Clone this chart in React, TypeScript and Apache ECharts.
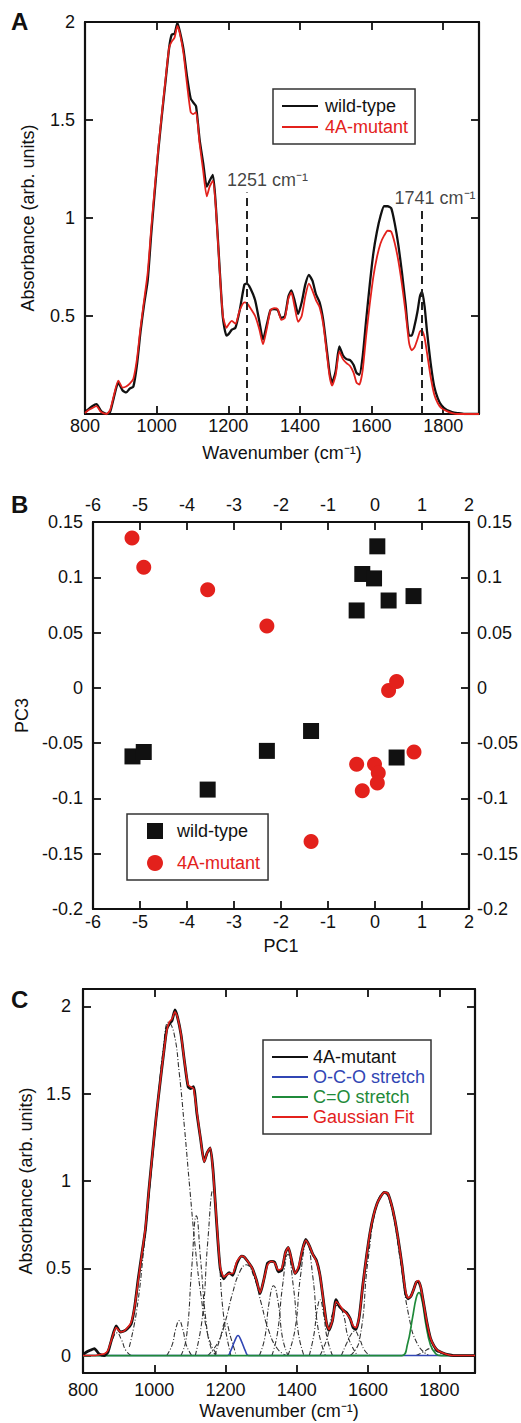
import React, { useEffect, useRef } from "react";
import * as echarts from "echarts";

// ---------- Panel A / C spectra ----------
const wavenumbers = [
  800, 810, 820, 832, 845, 860, 870, 880, 893, 905, 915, 925, 935, 945, 955, 965, 975, 985, 995,
  1005, 1015, 1025, 1035, 1042, 1050, 1058, 1065, 1075, 1085, 1095, 1102, 1110, 1120, 1130, 1140,
  1148, 1157, 1165, 1175, 1185, 1195, 1202, 1210, 1220, 1232, 1245, 1252, 1262, 1275, 1287, 1297,
  1308, 1318, 1328, 1338, 1348, 1358, 1368, 1376, 1385, 1395, 1405, 1415, 1425, 1435, 1445, 1455,
  1465, 1475, 1483, 1490, 1500, 1510, 1520, 1530, 1540, 1550, 1558, 1566, 1575, 1585, 1595, 1605,
  1615, 1625, 1635, 1645, 1655, 1665, 1675, 1685, 1695, 1705, 1712, 1720, 1728, 1735, 1741, 1748,
  1755, 1765, 1775, 1785, 1795, 1810, 1825, 1840, 1860, 1880, 1900,
];
const wildType = [
  0.01, 0.025, 0.04, 0.05, 0.015, 0.0, 0.01, 0.08, 0.16, 0.12, 0.11, 0.13, 0.14, 0.25, 0.42, 0.56, 0.68, 0.92, 1.14,
  1.35, 1.53, 1.7, 1.87, 1.935, 1.94, 1.995, 1.95, 1.86, 1.72, 1.61, 1.59, 1.57, 1.4, 1.28, 1.16,
  1.19, 1.22, 1.07, 0.77, 0.49, 0.4, 0.41, 0.43, 0.44, 0.53, 0.66, 0.665, 0.64, 0.58, 0.47, 0.38,
  0.46, 0.53, 0.535, 0.53, 0.49, 0.5, 0.6, 0.63, 0.58, 0.51, 0.57, 0.66, 0.71, 0.68, 0.61, 0.57,
  0.48, 0.33, 0.21, 0.16, 0.22, 0.345, 0.3, 0.28, 0.275, 0.25, 0.21, 0.2, 0.29, 0.48, 0.66, 0.82,
  0.93, 1.01, 1.06, 1.06, 1.05, 0.97, 0.86, 0.72, 0.56, 0.4, 0.4, 0.45, 0.52, 0.6, 0.625, 0.55,
  0.42, 0.26, 0.14, 0.08, 0.045, 0.02, 0.01, 0.005, 0, 0, 0,
];
const mutant = [
  0.005, 0.02, 0.03, 0.04, 0.01, 0.0, 0.02, 0.09, 0.17, 0.135, 0.14, 0.155, 0.18, 0.28, 0.44, 0.58, 0.72, 0.95, 1.16,
  1.36, 1.54, 1.71, 1.87, 1.9, 1.92, 1.98, 1.94, 1.84, 1.68, 1.54, 1.53, 1.54, 1.38, 1.24, 1.11,
  1.16, 1.19, 1.06, 0.76, 0.5, 0.44, 0.46, 0.475, 0.46, 0.53, 0.57, 0.565, 0.54, 0.5, 0.43, 0.355,
  0.44, 0.53, 0.54, 0.535, 0.48, 0.49, 0.59, 0.62, 0.55, 0.47, 0.5, 0.6, 0.665, 0.63, 0.58, 0.545,
  0.46, 0.31, 0.19, 0.145, 0.2, 0.32, 0.28, 0.26, 0.245, 0.21, 0.16, 0.15, 0.22, 0.4, 0.56, 0.7,
  0.8, 0.87, 0.91, 0.935, 0.93, 0.87, 0.78, 0.66, 0.52, 0.36, 0.325, 0.34, 0.38, 0.42, 0.425, 0.39,
  0.31, 0.19, 0.1, 0.055, 0.03, 0.015, 0.005, 0.0, 0, 0, 0,
];
const gaussianFit = [
  0, 0, 0, 0, 0.005, 0.01, 0.03, 0.09, 0.16, 0.135, 0.14, 0.16, 0.19, 0.28, 0.43, 0.58, 0.73, 0.95, 1.16,
  1.36, 1.54, 1.71, 1.86, 1.91, 1.93, 1.97, 1.94, 1.84, 1.68, 1.55, 1.54, 1.53, 1.39, 1.24, 1.11,
  1.16, 1.19, 1.05, 0.77, 0.51, 0.45, 0.46, 0.47, 0.47, 0.54, 0.57, 0.565, 0.54, 0.5, 0.43, 0.36,
  0.44, 0.52, 0.54, 0.53, 0.49, 0.5, 0.59, 0.62, 0.55, 0.47, 0.51, 0.6, 0.66, 0.63, 0.58, 0.54,
  0.46, 0.31, 0.19, 0.15, 0.2, 0.31, 0.29, 0.26, 0.24, 0.21, 0.17, 0.16, 0.22, 0.4, 0.56, 0.7,
  0.8, 0.87, 0.91, 0.935, 0.93, 0.87, 0.78, 0.66, 0.52, 0.37, 0.33, 0.34, 0.38, 0.42, 0.43, 0.39,
  0.31, 0.19, 0.1, 0.055, 0.03, 0.015, 0.005, 0.0, 0, 0, 0,
];

// Annotated peaks in panel A
const peakMarks = [1251, 1741];
const peakMarkTops = [1.13, 1.05];

// ---------- Panel C fitted components [wavenumber, absorbance] ----------
const comp897 = [[855, 0], [870, 0.03], [882, 0.09], [895, 0.13], [908, 0.09], [920, 0.03], [935, 0]];
const comp1040 = [[930, 0.05], [950, 0.25], [970, 0.6], [990, 1.02], [1010, 1.45], [1025, 1.75], [1040, 1.91], [1055, 1.85], [1070, 1.62], [1085, 1.3], [1100, 0.95], [1115, 0.62], [1130, 0.36], [1145, 0.17], [1160, 0.06], [1175, 0.01]];
const comp1070 = [[1035, 0], [1050, 0.06], [1060, 0.15], [1070, 0.2], [1080, 0.15], [1090, 0.06], [1105, 0]];
const comp1118 = [[1075, 0], [1090, 0.1], [1105, 0.5], [1118, 0.8], [1130, 0.55], [1145, 0.2], [1160, 0.04], [1175, 0]];
const comp1165 = [[1115, 0], [1135, 0.22], [1150, 0.65], [1165, 0.95], [1180, 0.62], [1195, 0.22], [1215, 0]];
const comp1200 = [[1170, 0], [1185, 0.1], [1200, 0.19], [1215, 0.1], [1230, 0]];
const comp1258 = [[1150, 0], [1180, 0.08], [1200, 0.2], [1220, 0.36], [1240, 0.48], [1258, 0.52], [1280, 0.45], [1300, 0.3], [1320, 0.15], [1345, 0.04], [1370, 0]];
const comp1335 = [[1295, 0], [1310, 0.1], [1322, 0.3], [1335, 0.4], [1348, 0.3], [1360, 0.1], [1375, 0]];
const comp1375 = [[1330, 0], [1345, 0.12], [1360, 0.4], [1375, 0.58], [1390, 0.4], [1405, 0.12], [1420, 0]];
const comp1428 = [[1375, 0], [1395, 0.15], [1410, 0.45], [1428, 0.65], [1445, 0.45], [1460, 0.15], [1480, 0]];
const comp1465 = [[1435, 0], [1448, 0.12], [1457, 0.26], [1465, 0.32], [1475, 0.24], [1485, 0.1], [1500, 0]];
const comp1515 = [[1465, 0], [1485, 0.1], [1500, 0.24], [1515, 0.29], [1530, 0.24], [1545, 0.1], [1570, 0]];
const comp1560 = [[1525, 0], [1540, 0.07], [1555, 0.13], [1562, 0.14], [1575, 0.1], [1590, 0.03], [1605, 0]];
const comp1645 = [[1550, 0], [1575, 0.08], [1600, 0.55], [1625, 0.87], [1645, 0.93], [1665, 0.85], [1690, 0.55], [1715, 0.22], [1740, 0.06], [1770, 0]];
const comp1775 = [[1735, 0], [1755, 0.02], [1775, 0.04], [1795, 0.02], [1815, 0]];
const ocoStretch = [[800, 0], [1205, 0], [1215, 0.03], [1225, 0.08], [1235, 0.115], [1245, 0.08], [1255, 0.03], [1265, 0], [1900, 0]];
const coStretch = [[800, 0], [1695, 0], [1710, 0.06], [1725, 0.22], [1735, 0.33], [1743, 0.36], [1752, 0.31], [1762, 0.18], [1775, 0.06], [1790, 0.01], [1805, 0], [1900, 0]];
const grayComponents = [comp897, comp1040, comp1070, comp1118, comp1165, comp1200, comp1258, comp1335, comp1375, comp1428, comp1465, comp1515, comp1560, comp1645, comp1775];

// ---------- Panel B PCA scores ----------
const wildPC1 = [0.05, -0.27, -0.02, 0.29, 0.82, -0.39, -5.16, -4.92, -3.56, -2.3, -1.36, 0.46];
const wildPC3 = [0.128, 0.103, 0.099, 0.079, 0.083, 0.07, -0.062, -0.058, -0.092, -0.057, -0.039, -0.063];
const mutPC1 = [-5.17, -4.92, -3.56, -2.3, 0.29, 0.46, 0.83, -0.39, -0.01, 0.07, 0.05, -0.27, -1.36];
const mutPC3 = [0.1355, 0.109, 0.0887, 0.056, -0.0024, 0.0057, -0.058, -0.069, -0.069, -0.077, -0.086, -0.093, -0.139];

// ---------- Tick labels ----------
const xTicks = [800, 1000, 1200, 1400, 1600, 1800];
const yTicksA = [0.5, 1, 1.5, 2];
const yTicksC = [0, 0.5, 1, 1.5, 2];

const FONT = '"Liberation Sans", Arial, Helvetica, sans-serif';
const INK = "#111";
const RED = "#e3211c";
const BLUE = "#3146b4";
const GREEN = "#1f8a3a";

const axisLine = { show: true, onZero: false, lineStyle: { color: INK, width: 2.2 } };
const tick = (values?: number[]) => ({
  show: true,
  inside: true,
  length: 8,
  lineStyle: { color: INK, width: 1.8 },
  ...(values ? { customValues: values } : {}),
});
const plain = (v: number) => String(parseFloat(Number(v).toFixed(2)));
const label = (extra: any) => ({ fontSize: 18, color: INK, fontFamily: FONT, formatter: plain, ...extra });
const noSplit = { show: false };
const nameStyle = { fontSize: 18, color: INK, fontFamily: FONT };

export default function App() {
  const ref = useRef<HTMLDivElement>(null);
  useEffect(() => {
    document.body.style.margin = "0";
    if (!ref.current) return;
    const chart = echarts.init(ref.current, undefined, { renderer: "svg" });

    const toPairs = (ys: number[]) => wavenumbers.map((w, i) => [w, ys[i]]);

    const option: any = {
      animation: false,
      backgroundColor: "#fff",
      textStyle: { fontFamily: FONT, color: INK },
      grid: [
        { left: 85, top: 22, width: 394, height: 392 },
        { left: 93, top: 522, width: 377, height: 387 },
        { left: 83, top: 989, width: 392, height: 384 },
      ],
      xAxis: [
        {
          gridIndex: 0, type: "value", min: 800, max: 1900, axisLine, axisTick: tick(xTicks),
          axisLabel: label({ customValues: xTicks, margin: 3 }), splitLine: noSplit,
          name: "Wavenumber (cm⁻¹)", nameLocation: "middle", nameGap: 30, nameTextStyle: nameStyle,
        },
        {
          gridIndex: 0, type: "value", position: "top", min: 800, max: 1900, axisLine, axisTick: tick(xTicks),
          axisLabel: { show: false, customValues: xTicks }, splitLine: noSplit,
        },
        {
          gridIndex: 1, type: "value", min: -6, max: 2, interval: 1, axisLine, axisTick: tick(),
          axisLabel: label({ margin: 4 }), splitLine: noSplit,
          name: "PC1", nameLocation: "middle", nameGap: 28, nameTextStyle: nameStyle,
        },
        {
          gridIndex: 1, type: "value", position: "top", min: -6, max: 2, interval: 1, axisLine, axisTick: tick(),
          axisLabel: label({ margin: 8 }), splitLine: noSplit,
        },
        {
          gridIndex: 2, type: "value", min: 800, max: 1900, axisLine, axisTick: tick(xTicks),
          axisLabel: label({ customValues: xTicks, margin: 8 }), splitLine: noSplit,
          name: "Wavenumber (cm⁻¹)", nameLocation: "middle", nameGap: 29, nameTextStyle: nameStyle,
        },
        {
          gridIndex: 2, type: "value", position: "top", min: 800, max: 1900, axisLine, axisTick: tick(xTicks),
          axisLabel: { show: false, customValues: xTicks }, splitLine: noSplit,
        },
      ],
      yAxis: [
        {
          gridIndex: 0, type: "value", min: 0, max: 2, axisLine, axisTick: tick(yTicksA),
          axisLabel: label({ customValues: yTicksA, margin: 10 }), splitLine: noSplit,
          name: "Absorbance (arb. units)", nameLocation: "middle", nameGap: 48, nameTextStyle: nameStyle,
        },
        {
          gridIndex: 0, type: "value", position: "right", min: 0, max: 2, axisLine, axisTick: tick(yTicksA),
          axisLabel: { show: false, customValues: yTicksA }, splitLine: noSplit,
        },
        {
          gridIndex: 1, type: "value", min: -0.2, max: 0.15, interval: 0.05, axisLine, axisTick: tick(),
          axisLabel: label({ margin: 10 }), splitLine: noSplit,
          name: "PC3", nameLocation: "middle", nameGap: 58, nameTextStyle: nameStyle,
        },
        {
          gridIndex: 1, type: "value", position: "right", min: -0.2, max: 0.15, interval: 0.05, axisLine, axisTick: tick(),
          axisLabel: label({ margin: 8 }), splitLine: noSplit,
        },
        {
          gridIndex: 2, type: "value", min: -0.1, max: 2.1, axisLine, axisTick: tick(yTicksC),
          axisLabel: label({ customValues: yTicksC, margin: 12 }), splitLine: noSplit,
          name: "Absorbance (arb. units)", nameLocation: "middle", nameGap: 47, nameTextStyle: nameStyle,
        },
        {
          gridIndex: 2, type: "value", position: "right", min: -0.1, max: 2.1, axisLine, axisTick: tick(yTicksC),
          axisLabel: { show: false, customValues: yTicksC }, splitLine: noSplit,
        },
      ],
      legend: [
        {
          left: 273, top: 89, orient: "vertical", itemWidth: 36, itemHeight: 2, itemGap: 3,
          padding: [8, 7, 8, 9], borderColor: "#333", borderWidth: 1.5, selectedMode: false,
          textStyle: { fontSize: 18, fontFamily: FONT, padding: [0, 0, 0, 2] },
          data: [
            { name: "wild-type", icon: "rect", itemStyle: { color: INK }, textStyle: { color: INK } },
            { name: "4A-mutant", icon: "rect", itemStyle: { color: RED }, textStyle: { color: RED } },
          ],
        },
        {
          left: 127, top: 814, orient: "vertical", itemWidth: 16, itemHeight: 16, itemGap: 14,
          padding: [8, 8, 8, 20], borderColor: "#333", borderWidth: 1.5, selectedMode: false,
          textStyle: { fontSize: 18, fontFamily: FONT, padding: [0, 0, 0, 9] },
          data: [
            { name: "wild-type", icon: "rect", itemStyle: { color: INK, opacity: 1 }, textStyle: { color: INK } },
            { name: "4A-mutant", icon: "circle", itemStyle: { color: RED, opacity: 1 }, textStyle: { color: RED } },
          ],
        },
        {
          left: 263, top: 1040, orient: "vertical", itemWidth: 36, itemHeight: 2, itemGap: 2,
          padding: [8, 6, 8, 9], borderColor: "#333", borderWidth: 1.5, selectedMode: false,
          textStyle: { fontSize: 18, fontFamily: FONT, padding: [0, 0, 0, 0] },
          data: [
            { name: "4A-mutant", icon: "rect", itemStyle: { color: INK }, textStyle: { color: INK } },
            { name: "O-C-O stretch", icon: "rect", itemStyle: { color: BLUE }, textStyle: { color: BLUE } },
            { name: "C=O stretch", icon: "rect", itemStyle: { color: GREEN }, textStyle: { color: GREEN } },
            { name: "Gaussian Fit", icon: "rect", itemStyle: { color: RED }, textStyle: { color: RED } },
          ],
        },
      ],
      graphic: [
        { type: "text", left: 11, top: 9, style: { text: "A", font: `bold 24px ${FONT}`, fill: INK } },
        { type: "text", left: 11, top: 492, style: { text: "B", font: `bold 24px ${FONT}`, fill: INK } },
        { type: "text", left: 11, top: 987, style: { text: "C", font: `bold 24px ${FONT}`, fill: INK } },
      ],
      series: [
        // ---- Panel A ----
        {
          name: "wild-type", type: "line", xAxisIndex: 0, yAxisIndex: 0, data: toPairs(wildType),
          showSymbol: false, symbol: "none", smooth: 0.2, color: INK, lineStyle: { color: INK, width: 2.3 }, z: 3,
        },
        {
          name: "4A-mutant", type: "line", xAxisIndex: 0, yAxisIndex: 0, data: toPairs(mutant),
          showSymbol: false, symbol: "none", smooth: 0.2, color: RED, lineStyle: { color: RED, width: 1.8 }, z: 4,
        },
        {
          name: "peaks", type: "scatter", xAxisIndex: 0, yAxisIndex: 0, symbolSize: 0, silent: true, z: 5,
          data: peakMarks.map((w, i) => ({
            value: [w, peakMarkTops[i]],
            label: { offset: [i === 0 ? 21 : 13, 0], distance: i === 0 ? 4 : 1 },
          })),
          label: {
            show: true, position: "top", fontSize: 18, color: INK, fontFamily: FONT,
            formatter: (p: any) => `${p.value[0]} cm⁻¹`,
          },
          markLine: {
            silent: true, symbol: ["none", "none"], label: { show: false },
            lineStyle: { color: "#222", width: 2, type: [8, 5] },
            data: peakMarks.map((w, i) => [{ coord: [w, 0] }, { coord: [w, peakMarkTops[i]] }]),
          },
        },
        // ---- Panel B ----
        {
          name: "wild-type", type: "scatter", xAxisIndex: 2, yAxisIndex: 2, symbol: "rect", symbolSize: 16,
          itemStyle: { color: INK, opacity: 1 }, data: wildPC1.map((x, i) => [x, wildPC3[i]]),
        },
        {
          name: "4A-mutant", type: "scatter", xAxisIndex: 2, yAxisIndex: 2, symbol: "circle", symbolSize: 15,
          itemStyle: { color: RED, opacity: 1 }, data: mutPC1.map((x, i) => [x, mutPC3[i]]),
        },
        // ---- Panel C ----
        ...grayComponents.map((c, i) => ({
          name: `component ${i + 1}`, type: "line", xAxisIndex: 4, yAxisIndex: 4, data: c,
          showSymbol: false, symbol: "none", smooth: 0.5, silent: true,
          lineStyle: { color: "#333", width: 1.1, type: [5, 2, 1, 2] }, z: 2,
        })),
        {
          name: "O-C-O stretch", type: "line", xAxisIndex: 4, yAxisIndex: 4, data: ocoStretch,
          showSymbol: false, symbol: "none", smooth: 0.4, color: BLUE, lineStyle: { color: BLUE, width: 1.6 }, z: 3,
        },
        {
          name: "C=O stretch", type: "line", xAxisIndex: 4, yAxisIndex: 4, data: coStretch,
          showSymbol: false, symbol: "none", smooth: 0.4, color: GREEN, lineStyle: { color: GREEN, width: 1.7 }, z: 3,
        },
        {
          name: "4A-mutant", type: "line", xAxisIndex: 4, yAxisIndex: 4, data: toPairs(mutant),
          showSymbol: false, symbol: "none", smooth: 0.2, color: INK, lineStyle: { color: INK, width: 2.8 }, z: 4,
        },
        {
          name: "Gaussian Fit", type: "line", xAxisIndex: 4, yAxisIndex: 4, data: toPairs(gaussianFit),
          showSymbol: false, symbol: "none", smooth: 0.2, color: RED, lineStyle: { color: RED, width: 1.6 }, z: 5,
        },
      ],
    };

    chart.setOption(option);
    return () => chart.dispose();
  }, []);

  return <div ref={ref} style={{ width: 521, height: 1423 }} />;
}
